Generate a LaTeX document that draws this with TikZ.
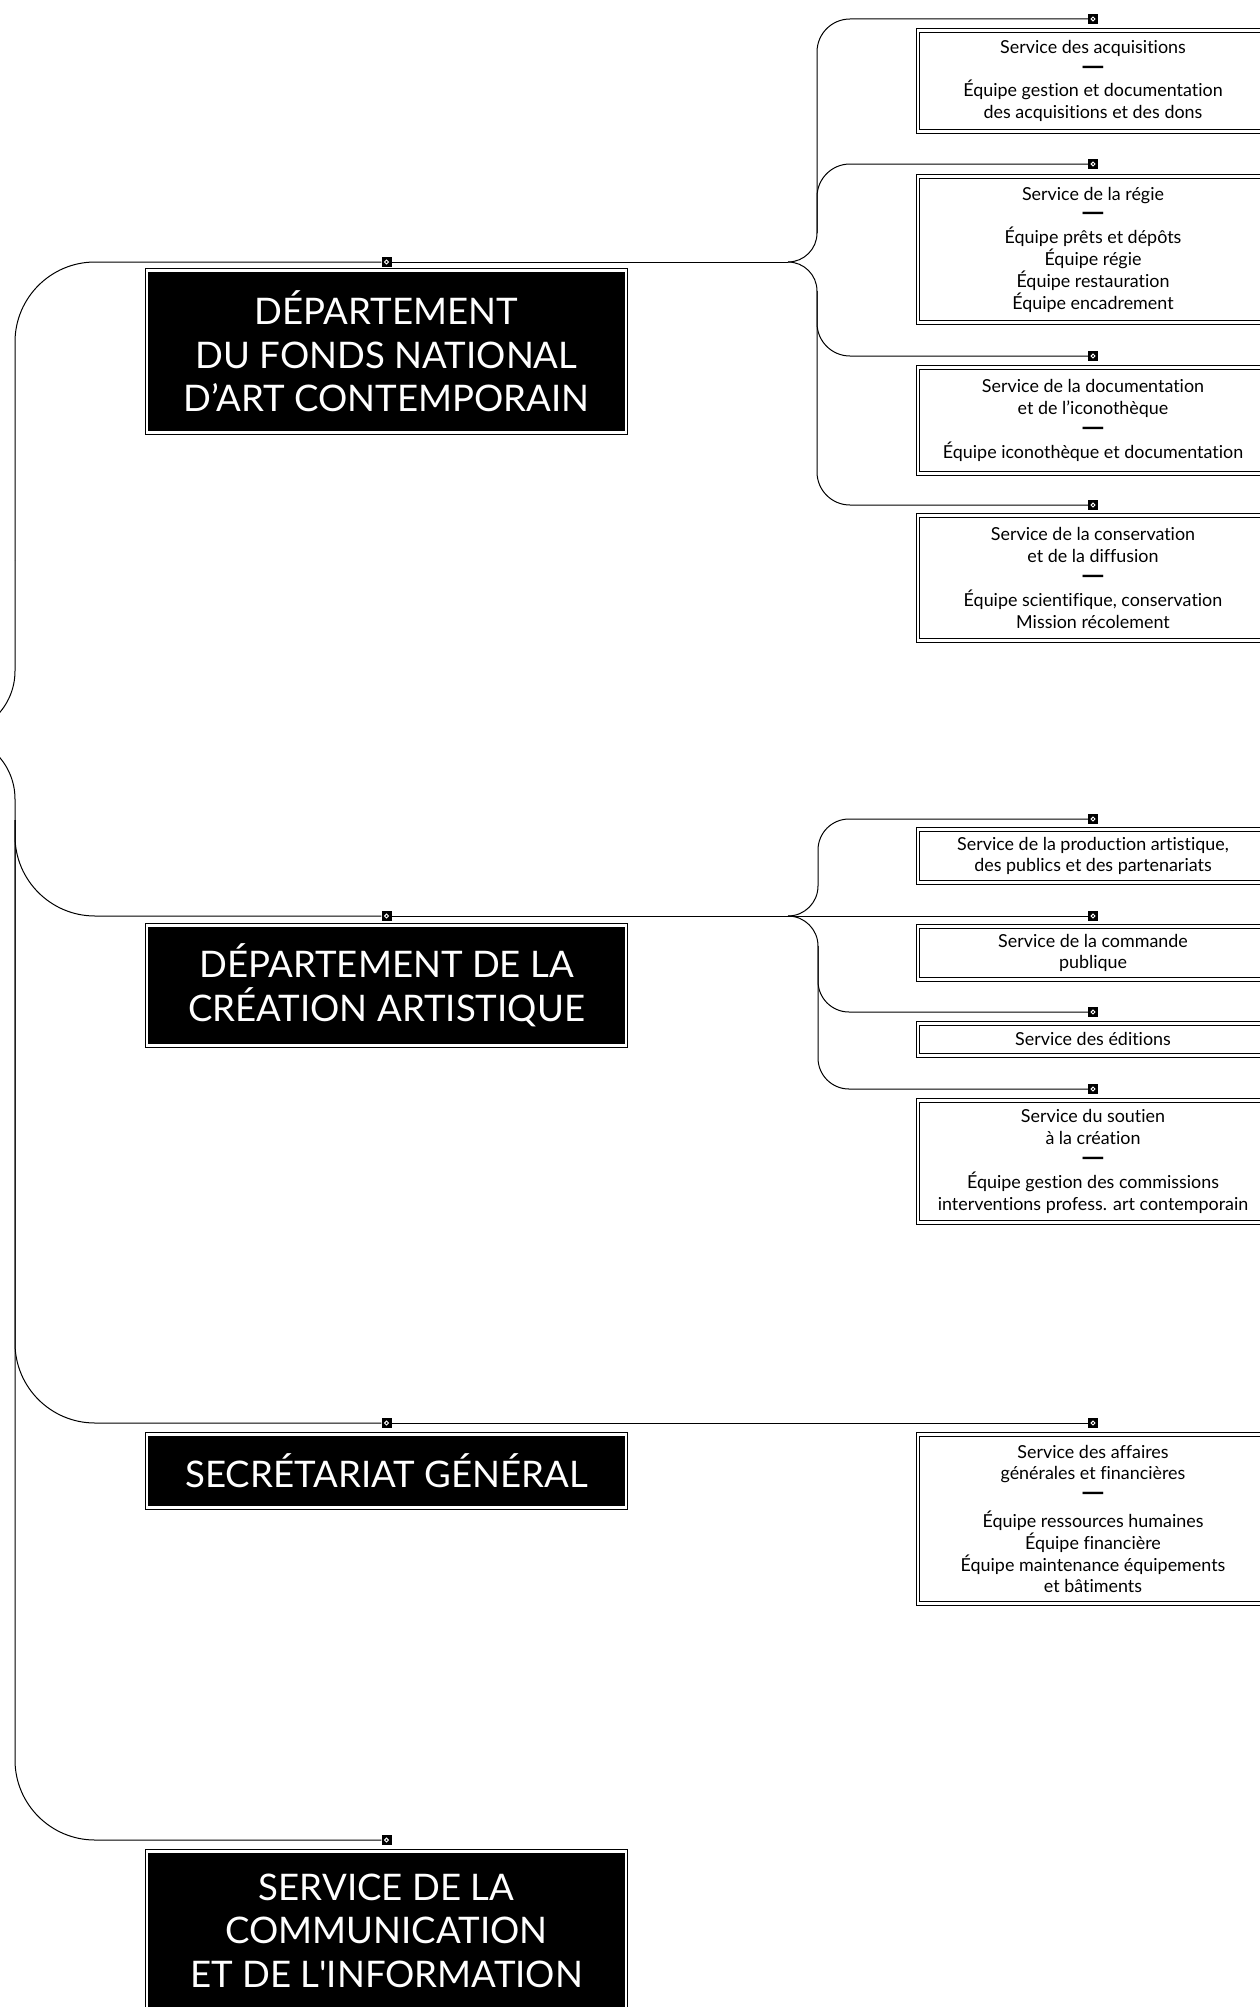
\documentclass[tikz,border=0pt]{standalone}
\usepackage{fontspec}
\setmainfont{Lato}[Ligatures=NoCommon]
\usepackage{tikz}
\usetikzlibrary{positioning}
\newcommand{\sep}{\scalebox{1.7}[1.5]{\textbf{—}}}

\begin{document}
\begin{tikzpicture}[x=1pt,y=-1pt,
  link/.style={draw=black, line width=1pt},
  dept/.style={fill=black, text=white, draw=black, double=white, double distance=2.4pt,
    line width=0.9pt, minimum width=479pt, anchor=north, align=center, inner sep=0pt,
    font=\fontsize{36.6}{43.5}\selectfont},
  serv/.style={fill=white, draw=black, double=white, double distance=2.4pt,
    line width=0.9pt, minimum width=350pt, anchor=north, align=center, inner sep=0pt,
    font=\fontsize{17.9}{21.8}\selectfont},
  knob/.style={fill=black, minimum size=10pt, inner sep=0pt,
    path picture={\draw[white, line width=0.9pt] (path picture bounding box.center) circle (1.9pt);}}]
\useasboundingbox (0,0) rectangle (1259,2007);

\node[dept, minimum height=162pt] (dFnac) at (386.5,270) {DÉPARTEMENT\\DU FONDS NATIONAL\\D’ART CONTEMPORAIN};
\node[dept, minimum height=120pt] (dCrea) at (386.5,925) {DÉPARTEMENT DE LA\\CRÉATION ARTISTIQUE};
\node[dept, minimum height=73pt] (dSg) at (386.5,1434) {SECRÉTARIAT GÉNÉRAL};
\node[dept, minimum height=158pt] (dCom) at (386.5,1851) {SERVICE DE LA\\COMMUNICATION\\ET DE L\textquotesingle INFORMATION};

\node[serv, minimum height=101pt] (sAcq) at (1093,30) {Service des acquisitions\\\sep\\Équipe gestion et documentation\\des acquisitions et des dons};
\node[serv, minimum height=146pt] (sRegie) at (1093,176) {Service de la régie\\\sep\\Équipe prêts et dépôts\\Équipe régie\\Équipe restauration\\Équipe encadrement};
\node[serv, minimum height=106pt] (sDoc) at (1093,367) {Service de la documentation\\et de l’iconothèque\\\sep\\Équipe iconothèque et documentation};
\node[serv, minimum height=125pt] (sCons) at (1093,515) {Service de la conservation\\et de la diffusion\\\sep\\Équipe scientifique, conservation\\Mission récolement};
\node[serv, minimum height=53pt] (sProd) at (1093,829) {Service de la production artistique,\\des publics et des partenariats};
\node[serv, minimum height=53pt] (sCmd) at (1093,926) {Service de la commande\\publique};
\node[serv, minimum height=32pt] (sEd) at (1093,1023) {Service des éditions};
\node[serv, minimum height=122pt] (sSout) at (1093,1100) {Service du soutien\\à la création\\\sep\\Équipe gestion des commissions\\interventions profess. art contemporain};
\node[serv, minimum height=169pt] (sAff) at (1093,1434) {Service des affaires\\générales et financières\\\sep\\[4pt]Équipe ressources humaines\\Équipe financière\\Équipe maintenance équipements\\et bâtiments};

\foreach \n/\y in {Fnac/262,Crea/916,Sg/1423,Com/1840}
  \node[knob] (k\n) at (386.5,\y) {};
\foreach \n/\y in {Acq/19,Regie/164,Doc/356,Cons/505,Prod/819,Cmd/916,Ed/1012,Sout/1089,Aff/1423}
  \node[knob] (k\n) at (1093,\y) {};

\coordinate (root) at (-49,735);
\coordinate (jtop) at (15,560);
\coordinate (jbot) at (15,820);
\draw[link, rounded corners=64] (root) -| (jtop);
\draw[link, rounded corners=64] (root) -| (jbot);
\draw[link, rounded corners=80] (jtop) |- (kFnac.west);
\draw[link, rounded corners=80] (jbot) |- (kCrea.west);
\draw[link, rounded corners=80] (jbot) |- (kSg.west);
\draw[link, rounded corners=80] (jbot) |- (kCom.west);

\coordinate (tFnac) at (788,262);
\coordinate (uFnac) at (817,233);
\coordinate (lFnac) at (817,291);
\draw[link] (kFnac.east) -- (tFnac);
\draw[link, rounded corners=29] (tFnac) -| (uFnac);
\draw[link, rounded corners=29] (tFnac) -| (lFnac);
\draw[link, rounded corners=33] (uFnac) |- (kAcq.west);
\draw[link, rounded corners=33] (uFnac) |- (kRegie.west);
\draw[link, rounded corners=33] (lFnac) |- (kDoc.west);
\draw[link, rounded corners=33] (lFnac) |- (kCons.west);

\coordinate (tCrea) at (788,916);
\coordinate (uCrea) at (818,886);
\coordinate (lCrea) at (818,946);
\draw[link] (kCrea.east) -- (kCmd.west);
\draw[link, rounded corners=30] (tCrea) -| (uCrea);
\draw[link, rounded corners=30] (tCrea) -| (lCrea);
\draw[link, rounded corners=31] (uCrea) |- (kProd.west);
\draw[link, rounded corners=31] (lCrea) |- (kEd.west);
\draw[link, rounded corners=31] (lCrea) |- (kSout.west);

\draw[link] (kSg.east) -- (kAff.west);
\end{tikzpicture}
\end{document}
